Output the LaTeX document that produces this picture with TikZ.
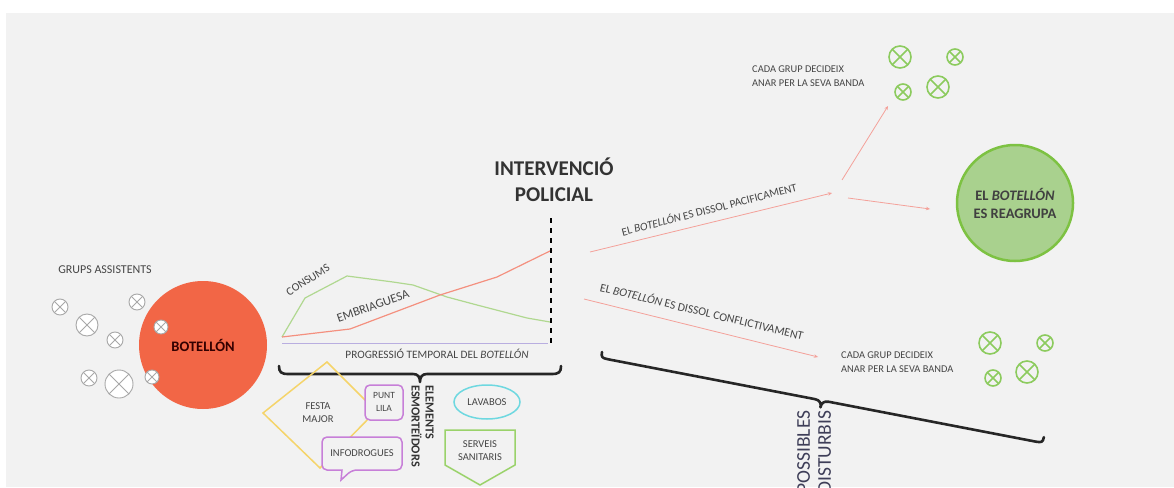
\documentclass[tikz,border=0pt]{standalone}
\usepackage{fontspec}
\setmainfont{Carlito}
\usetikzlibrary{arrows.meta}
\definecolor{bgc}{HTML}{F2F2F2}
\definecolor{botred}{HTML}{F26646}
\definecolor{txt}{HTML}{454545}
\definecolor{lnred}{HTML}{F4A19A}
\definecolor{chred}{HTML}{F4907F}
\definecolor{chgreen}{HTML}{B0D890}
\definecolor{axpurple}{HTML}{B9AEE0}
\definecolor{cgreen}{HTML}{7DC242}
\definecolor{lgreen}{HTML}{A9D18E}
\definecolor{sgreen}{HTML}{8CCB5E}
\definecolor{ygold}{HTML}{F5D46A}
\definecolor{purp}{HTML}{C77FD8}
\definecolor{cyanc}{HTML}{6ED8E0}
\definecolor{pgreen}{HTML}{9AD26A}
\definecolor{symgray}{HTML}{A8A8A8}
\newcommand{\grpsym}[4]{%
  \begin{scope}[shift={(#1,#2)}]
    \draw[#4] (0,0) circle[radius=#3];
    \draw[#4] (45:#3) -- (225:#3) (135:#3) -- (315:#3);
  \end{scope}}
\begin{document}
\begin{tikzpicture}[x=1pt,y=-1pt,
  lbl/.style={text=txt,font=\fontsize{11.5}{14}\selectfont,inner sep=1pt},
  grysym/.style={draw=symgray,line width=0.9pt,fill=white},
  grnsym/.style={draw=sgreen,line width=1.6pt},
  conn/.style={draw=lnred,line width=0.8pt,-{Stealth[length=4pt,width=3.5pt]}},
  bracestyle/.style={draw=black!85,line width=2.6pt,line join=round,line cap=round},
  shapelbl/.style={text=txt,font=\fontsize{10.5}{13}\selectfont,align=center,inner sep=0pt}]
\useasboundingbox (0,0) rectangle (1174,487);
\fill[white] (0,0) rectangle (1174,487);
\fill[bgc] (6,13) rectangle (1174,487);

% left: groups and botellon
\node[lbl,font=\fontsize{12}{14}\selectfont] (grups) at (105,270) {GRUPS ASSISTENTS};
\grpsym{60}{307}{8}{grysym}
\grpsym{87}{325}{11}{grysym}
\grpsym{115}{340}{8}{grysym}
\grpsym{137}{302}{8}{grysym}
\grpsym{89}{378}{8}{grysym}
\grpsym{119}{384}{14}{grysym}
\node[circle,fill=botred,minimum size=128pt,inner sep=0pt,text=black!80!red,
      font=\bfseries\fontsize{14.5}{16}\selectfont] (bot) at (203,345) {BOTELLÓN};
\grpsym{161}{327}{7}{grysym}
\grpsym{152}{377}{7}{grysym}

% chart
\draw[axpurple,line width=1pt] (282,343) -- (548,343);
\draw[chgreen,line width=1.2pt] (282,337) -- (305,298) -- (347,276) -- (393,282)
   -- (413,285) -- (447,297) -- (477,305) -- (527,318) -- (550,322);
\draw[chred,line width=1.2pt] (282,337) -- (350,329) -- (440,295) -- (497,277) -- (552,250);
\node[lbl,rotate=32,font=\fontsize{11.5}{13}\selectfont] (consums) at (308,280) {CONSUMS};
\node[lbl,rotate=19,font=\fontsize{12.5}{14}\selectfont] (embr) at (373,306) {EMBRIAGUESA};
\node[lbl,font=\fontsize{11.3}{13}\selectfont] (prog) at (437,354) {PROGRESSIÓ TEMPORAL DEL \textit{BOTELLÓN}};
\draw[black,line width=2.4pt,dash pattern=on 5pt off 5pt] (551,218) -- (551,346);
\node[text=black!80,align=center,font=\bfseries\fontsize{21}{26}\selectfont] (interv) at (554,180)
   {INTERVENCIÓ\\POLICIAL};

% brace under chart
\draw[bracestyle] (279,366) .. controls (279,372) and (281,374) .. (288,374) -- (413,374)
   .. controls (418,374) and (420,377) .. (420,382) .. controls (420,377) and (422,374) .. (427,374)
   -- (552,374) .. controls (559,374) and (561,372) .. (561,366);

% bottom shapes
\draw[ygold,line width=1.5pt] (327,362) -- (376,411) -- (320,468) -- (263,413) -- cycle;
\node[shapelbl] (festa) at (318,413) {FESTA\\MAJOR};
\draw[purp,line width=1.5pt,fill=bgc,rounded corners=5pt] (365,385) rectangle (403,420);
\node[shapelbl,font=\fontsize{9.5}{13}\selectfont] (punt) at (384,402) {PUNT\\LILA};
\draw[purp,line width=1.5pt,fill=bgc,rounded corners=5pt] (322,437) -- (402,437) -- (402,470)
   -- (352,470) [sharp corners] -- (341,480) -- (342,470) [rounded corners=5pt] -- (322,470) -- cycle;
\node[shapelbl] (info) at (362,453) {INFODROGUES};
\node[text=black!80,rotate=-90,anchor=north west,align=left,inner sep=0pt,
      font=\bfseries\fontsize{12.3}{14}\selectfont] (elem) at (434,385) {ELEMENTS\\ESMORTEÏDORS};
\draw[cyanc,line width=1.5pt] (487,402) ellipse[x radius=33,y radius=17];
\node[shapelbl] (lav) at (487,402) {LAVABOS};
\draw[pgreen,line width=1.5pt] (445,430) -- (515,430) -- (515,465) -- (480,485) -- (445,465) -- cycle;
\node[shapelbl] (serv) at (480,451) {SERVEIS\\SANITARIS};

% branches
\coordinate (ce1) at (590,252);
\coordinate (sp) at (832,193);
\coordinate (sp2) at (842,180);
\coordinate (sp3) at (848,198);
\coordinate (up) at (888,106);
\coordinate (right) at (930,209);
\coordinate (ce2) at (584,299);
\coordinate (low) at (818,357);
\draw[conn] (ce1) -- (sp);
\draw[conn] (sp2) -- (up);
\draw[conn] (sp3) -- (right);
\draw[conn] (ce2) -- (low);
\node[lbl,rotate=14.5,font=\fontsize{11.3}{13}\selectfont] (pacif) at (709,209)
   {EL \textit{BOTELLÓN} ES DISSOL PACIFICAMENT};
\node[lbl,rotate=-13.6,font=\fontsize{11.8}{13}\selectfont] (confl) at (702,311)
   {EL \textit{BOTELLÓN} ES DISSOL CONFLICTIVAMENT};

% top right groups
\node[lbl,anchor=west,align=left,font=\fontsize{10.4}{14}\selectfont] (cada1) at (751,76)
   {CADA GRUP DECIDEIX\\ANAR PER LA SEVA BANDA};
\grpsym{900}{57}{11}{grnsym}
\grpsym{955}{57}{8}{grnsym}
\grpsym{903}{92}{8}{grnsym}
\grpsym{938}{87}{11}{grnsym}
\node[circle,draw=cgreen,line width=2.5pt,fill=lgreen,minimum size=116pt,inner sep=0pt,
      align=center,text=black!75,font=\bfseries\fontsize{14.5}{18}\selectfont] (reag) at (1015,203)
   {EL \textit{BOTELLÓN}\\ES REAGRUPA};

% lower right groups
\node[lbl,anchor=west,align=left,font=\fontsize{10.4}{14}\selectfont] (cada2) at (840,362)
   {CADA GRUP DECIDEIX\\ANAR PER LA SEVA BANDA};
\grpsym{990}{343}{11}{grnsym}
\grpsym{1045}{343}{8}{grnsym}
\grpsym{993}{378}{8}{grnsym}
\grpsym{1027}{372}{11}{grnsym}

% disturbis brace
\begin{scope}[shift={(602,352)},rotate=-10.9]
  \draw[bracestyle] (0,0) .. controls (0,5) and (1,6) .. (7,6) -- (218,6)
    .. controls (223,6) and (225,9) .. (225,13) .. controls (225,9) and (227,6) .. (232,6)
    -- (443,6) .. controls (449,6) and (450,5) .. (450,0);
\end{scope}
\node[text=txt!90!blue,rotate=90,align=center,inner sep=0pt,
      font=\fontsize{19.5}{21}\selectfont] (dist) at (814,452) {POSSIBLES\\DISTURBIS};
\end{tikzpicture}
\end{document}
